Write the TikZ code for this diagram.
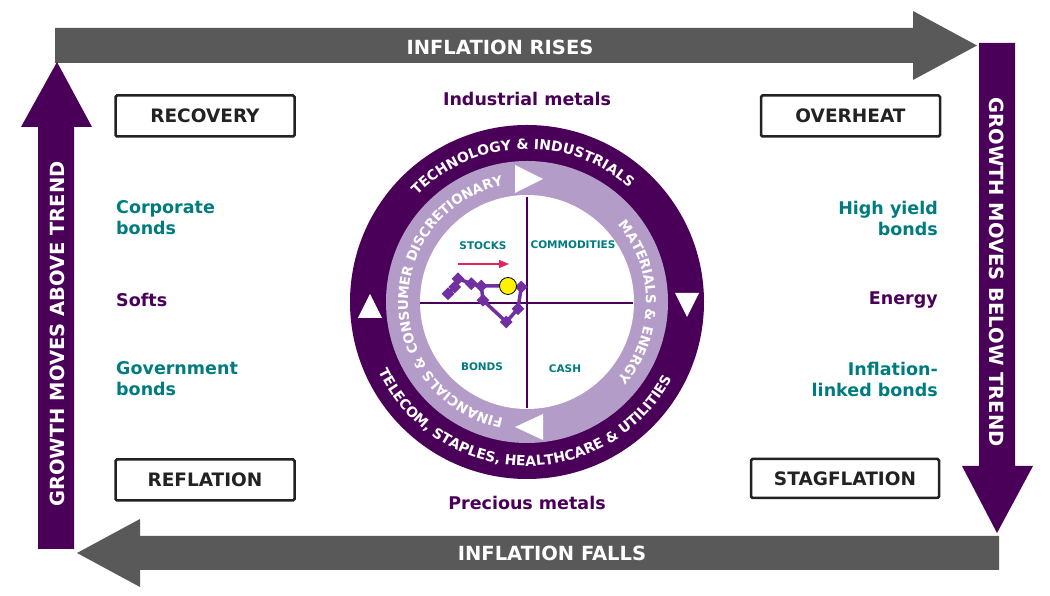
\documentclass[tikz,border=0pt]{standalone}
\usepackage{fontspec}
\setmainfont{DejaVu Sans}
\usetikzlibrary{decorations.text,shapes.geometric,arrows.meta}
\tikzset{>=stealth}
\definecolor{darkpurple}{RGB}{74,0,88}
\definecolor{lilac}{RGB}{180,156,200}
\definecolor{assetteal}{RGB}{0,124,128}
\definecolor{arrowgray}{RGB}{89,89,89}
\definecolor{trailpurple}{RGB}{112,48,160}
\definecolor{boxline}{RGB}{34,34,34}
\definecolor{signalred}{RGB}{226,36,90}

\tikzset{
  bigtext/.style={text=white, inner sep=0pt, font=\fontsize{19.5}{20}\bfseries\selectfont},
  phase/.style={draw=boxline, line width=2.5pt, rounded corners=1.5pt, text=boxline,
    minimum width=179pt, minimum height=41pt, inner sep=0pt,
    font=\fontsize{18.5}{20}\bfseries\selectfont},
  asset/.style={inner sep=0pt, align=left, font=\fontsize{17.5}{21}\bfseries\selectfont},
  quad/.style={text=assetteal, inner sep=0pt, font=\fontsize{10.5}{11}\bfseries\selectfont},
  ringtext/.style={decorate, decoration={text along path, text align=center, text color=white, text={#1}}},
  diam/.style={diamond, fill=trailpurple, minimum size=13pt, inner sep=0pt},
}

\begin{document}
\begin{tikzpicture}[x=1pt,y=1pt]
  \useasboundingbox (0,0) rectangle (1050,596);
  % big arrows round the edge
  \fill[arrowgray] (55,533) -- (913,533) -- (913,516) -- (977,550.5) -- (913,585) -- (913,568) -- (55,568) -- cycle;
  \node[bigtext] (rises) at (500,549) {INFLATION RISES};
  \fill[darkpurple] (979,553) -- (979,130) -- (962,130) -- (997,63) -- (1033,130) -- (1015,130) -- (1015,553) -- cycle;
  \node[bigtext, rotate=-90] (below) at (997,324) {GROWTH MOVES BELOW TREND};
  \fill[arrowgray] (999,26) -- (140,26) -- (140,9) -- (77,43) -- (140,77) -- (140,60) -- (999,60) -- cycle;
  \node[bigtext] (falls) at (552,43) {INFLATION FALLS};
  \fill[darkpurple] (38,47) -- (38,469) -- (21,469) -- (57,534) -- (92,469) -- (74,469) -- (74,47) -- cycle;
  \node[bigtext, rotate=90] (above) at (57,262) {GROWTH MOVES ABOVE TREND};

  % phases
  \node[phase] (recovery) at (205,480) {RECOVERY};
  \node[phase] (overheat) at (850.5,480) {OVERHEAT};
  \node[phase] (reflation) at (205,116) {REFLATION};
  \node[phase, minimum width=188pt, minimum height=39pt] (stagflation) at (845,117.5) {STAGFLATION};

  % assets
  \node[asset, text=darkpurple] (indmet) at (527,497) {Industrial metals};
  \node[asset, text=darkpurple] (premet) at (527,93) {Precious metals};
  \node[asset, text=assetteal, anchor=west] (corp) at (116,378) {Corporate\\bonds};
  \node[asset, text=darkpurple, anchor=west] (softs) at (116,296) {Softs};
  \node[asset, text=assetteal, anchor=west] (govt) at (116,217) {Government\\bonds};
  \node[asset, text=assetteal, anchor=east, align=right] (hiyield) at (938,378) {High yield\\bonds};
  \node[asset, text=darkpurple, anchor=east] (energy) at (938,296) {Energy};
  \node[asset, text=assetteal, anchor=east, align=right] (linkers) at (938,217) {Inflation-\\linked bonds};

  % clock
  \coordinate (c) at (527,294);
  \fill[darkpurple] (c) circle[radius=177];
  \fill[lilac] (c) circle[radius=141];
  \fill[white] (c) circle[radius=107];
  \draw[darkpurple, line width=2pt] (527,188) -- (527,399);
  \draw[darkpurple, line width=2pt] (420,293) -- (633,293);

  \path[ringtext={|\fontsize{14}{14}\bfseries\selectfont|TECHNOLOGY {\&} INDUSTRIALS}]
    (c) ++(180:153) arc[start angle=180, end angle=4, radius=153];
  \path[ringtext={|\fontsize{14}{14}\bfseries\selectfont|TELECOM, STAPLES, HEALTHCARE {\&} UTILITIES}]
    (c) ++(178:164) arc[start angle=178, end angle=359, radius=164];
  \path[ringtext={|\fontsize{13.5}{14}\bfseries\selectfont|FINANCIALS {\&} CONSUMER DISCRETIONARY}]
    (c) ++(300:119) arc[start angle=300, end angle=60, radius=119];
  \path[ringtext={|\fontsize{13.5}{14}\bfseries\selectfont|MATERIALS {\&} ENERGY}]
    (c) ++(90:119) arc[start angle=90, end angle=-90, radius=119];

  \fill[white] (515,431) -- (515,403) -- (543,417) -- cycle;
  \fill[white] (687,279) -- (675,303) -- (699,303) -- cycle;
  \fill[white] (515,169) -- (543,182) -- (543,156) -- cycle;
  \fill[white] (370,302) -- (358,278) -- (382,278) -- cycle;

  \node[quad] (stocks) at (483,350) {STOCKS};
  \node[quad] (commod) at (573,351) {COMMODITIES};
  \node[quad] (bonds) at (482,229) {BONDS};
  \node[quad] (cash) at (565,227) {CASH};

  % trail of the clock
  \coordinate (s0) at (458,332);
  \coordinate (s1) at (509,332);
  \draw[signalred, line width=1.3pt, -{Triangle[length=10pt,width=8pt]}] (s0) -- (s1);
  \coordinate (p1) at (448,302.3);
  \coordinate (p2) at (454.7,309);
  \coordinate (p3) at (458,317.3);
  \coordinate (p4) at (471.3,312.3);
  \coordinate (p5) at (481.3,310);
  \coordinate (p6) at (483,295.7);
  \coordinate (p7) at (506.3,274);
  \coordinate (p8) at (518,287.3);
  \coordinate (p9) at (521.3,309);
  \coordinate (now) at (508,310);
  \draw[trailpurple, line width=3.5pt, line join=round]
    (p1) -- (p2) -- (p3) -- (p4) -- (p5) -- (p6) -- (p7) -- (p8) -- (p9) -- (now) -- (p5);
  \foreach \p in {p1,p2,p3,p4,p5,p6,p7,p8,p9}
    \node[diam] at (\p) {};
  \node[circle, fill=yellow, draw=black, line width=0.8pt, minimum size=17pt, inner sep=0pt] (dot) at (now) {};
\end{tikzpicture}
\end{document}
